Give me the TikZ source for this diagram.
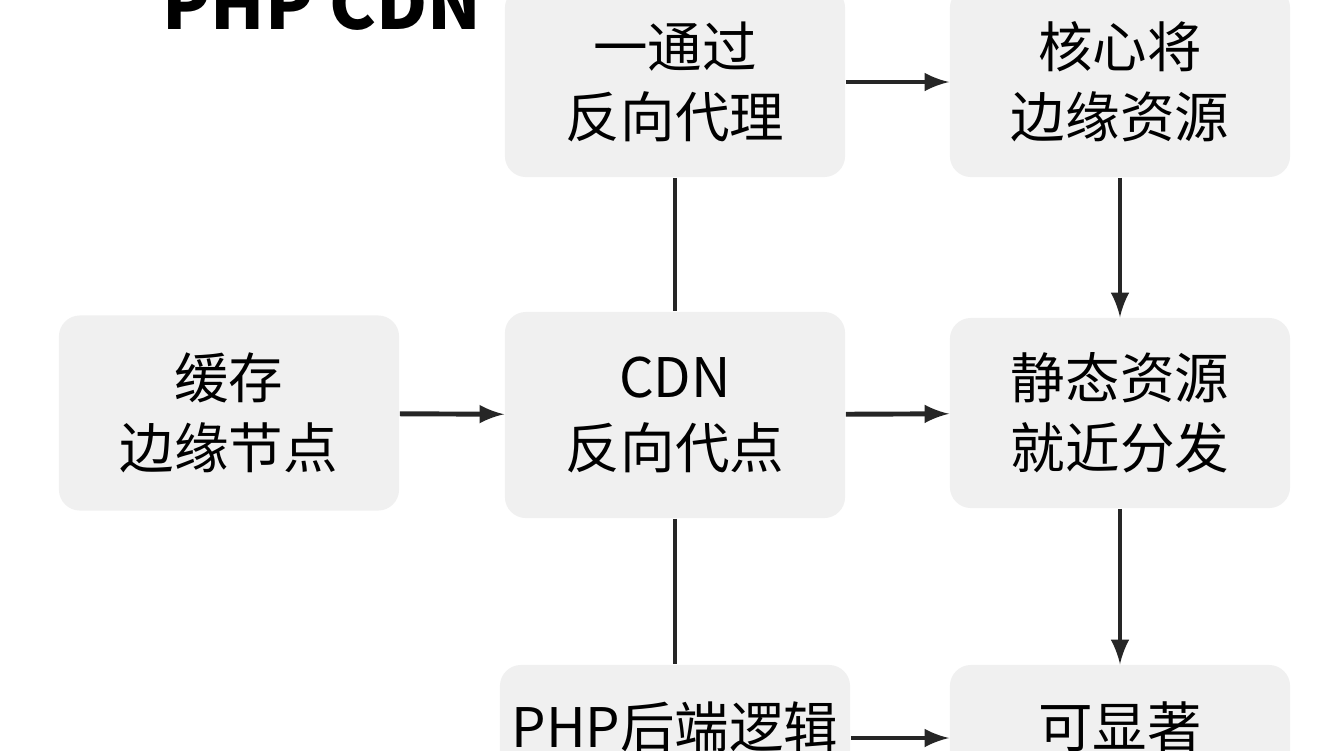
\documentclass[tikz,border=0pt]{standalone}
\usepackage{fontspec}
\setmainfont{Noto Sans CJK SC}
\usetikzlibrary{positioning}

\begin{document}
\begin{tikzpicture}[x=0.01cm, y=-0.01cm,
        box/.style={rectangle, rounded corners=6pt, fill=gray!12, draw=none,
            minimum width=3.4cm, align=center, font=\fontsize{15.5}{20}\selectfont},
        arr/.style={->, >=latex, line width=1.4pt, black!85},
        lin/.style={line width=1.4pt, black!85}]
        \clip (0, 0) rectangle (1344, 750);
        \fill[white] (0, 0) rectangle (1344, 750);

        \node[font=\bfseries\fontsize{20}{20}\selectfont] (title) at (322, 3) {PHP CDN};

        \node[box, minimum height=1.9cm] (proxy) at (675, 82) {一通过\\反向代理};
        \node[box, minimum height=1.9cm] (core) at (1120, 82) {核心将\\边缘资源};
        \node[box, minimum height=1.95cm] (cache) at (229, 413) {缓存\\边缘节点};
        \node[box, minimum height=2.06cm] (cdn) at (675, 415) {CDN\\反向代点};
        \node[box, minimum height=1.9cm] (static) at (1120, 413) {静态资源\\就近分发};
        \node[box, minimum height=1.9cm] (php) at (675, 760) {PHP后端逻辑\\ };
        \node[box, minimum height=1.9cm] (gain) at (1120, 760) {可显著\\ };

        \draw[arr] (proxy) -- (core);
        \draw[lin] (proxy) -- (cdn);
        \draw[arr] (core) -- (static);
        \draw[arr] (cache) -- (cdn);
        \draw[arr] (cdn) -- (static);
        \draw[arr] (static) -- (gain);
        \draw[lin] (cdn) -- (php);
        \draw[arr] (php.east |- 0, 738) -- (gain.west |- 0, 738);
    \end{tikzpicture}
\end{document}
